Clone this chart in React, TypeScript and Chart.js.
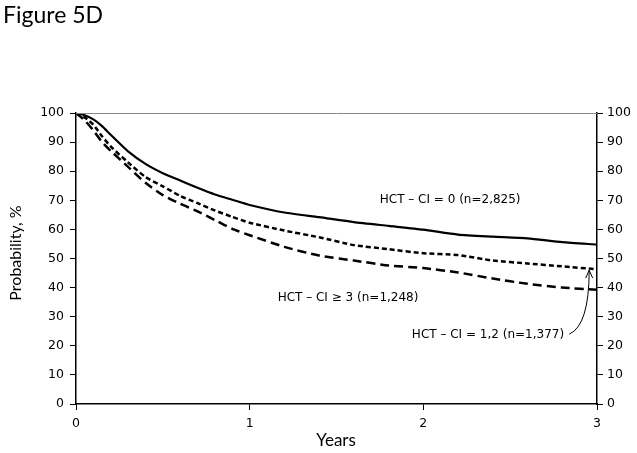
import React, { useEffect, useRef } from "react";
import { Chart, registerables } from "chart.js";

Chart.register(...registerables);

const YEARS = [0, 0.05, 0.1, 0.15, 0.2, 0.3, 0.4, 0.5, 0.6, 0.7, 0.8, 0.9, 1.0, 1.2, 1.4, 1.6, 1.8, 2.0, 2.2, 2.4, 2.6, 2.8, 3.0];
const CI0 = [100, 99.2, 97.8, 95.5, 92.5, 86.8, 82.5, 79.3, 76.8, 74.3, 72, 70.2, 68.4, 65.8, 64.2, 62.5, 61.2, 59.9, 58.2, 57.5, 56.9, 55.6, 54.8];
const CI12 = [100, 98.5, 96, 92, 88.5, 83, 78, 74.8, 71.5, 69, 66.5, 64.3, 62.3, 59.6, 57.3, 54.6, 53.2, 51.8, 51.2, 49.3, 48.3, 47.3, 46.3];
const CI3 = [100, 97.5, 94, 90, 87, 81.5, 76, 71.8, 68.8, 66.2, 63.2, 60.2, 58, 54, 51, 49.3, 47.6, 46.7, 45.2, 43.1, 41.3, 40, 39.3];

const X_TICKS = [0, 1, 2, 3];
const Y_TICKS = [0, 10, 20, 30, 40, 50, 60, 70, 80, 90, 100];

const LABEL_CI0 = "HCT \u2013 CI = 0 (n=2,825)";
const LABEL_CI3 = "HCT \u2013 CI \u2265 3 (n=1,248)";
const LABEL_CI12 = "HCT \u2013 CI = 1,2 (n=1,377)";

const toPoints = (ys: number[]) => YEARS.map((x, i) => ({ x, y: ys[i] }));

const TICK_FONT = { family: "'DejaVu Sans', Verdana, sans-serif", size: 12.5 };

const overlay = {
  id: "overlay",
  afterDraw(chart: any) {
    const { ctx, chartArea, scales } = chart;
    const xs = scales.x;
    const ys = scales.y;
    ctx.save();
    // top border line
    ctx.strokeStyle = "#888";
    ctx.lineWidth = 1;
    ctx.beginPath();
    ctx.moveTo(chartArea.left, chartArea.top + 0.5);
    ctx.lineTo(chartArea.right, chartArea.top + 0.5);
    ctx.stroke();

    // Title
    ctx.fillStyle = "#000";
    ctx.font = "23px Lato, 'Open Sans', sans-serif";
    ctx.textBaseline = "alphabetic";
    ctx.textAlign = "left";
    ctx.fillText("Figure 5D", 3, 23);

    // axis titles
    ctx.font = "17px Lato, 'Open Sans', sans-serif";
    ctx.textAlign = "center";
    ctx.textBaseline = "middle";
    ctx.fillText("Years", 336, 441);
    ctx.save();
    ctx.translate(16, 253);
    ctx.rotate(-Math.PI / 2);
    ctx.font = "16px Lato, 'Open Sans', sans-serif";
    ctx.fillText("Probability, %", 0, 0);
    ctx.restore();

    // annotations
    ctx.font = "12px 'DejaVu Sans', Verdana, sans-serif";
    ctx.textAlign = "left";
    ctx.textBaseline = "middle";
    ctx.fillText(LABEL_CI0, xs.getPixelForValue(1.749), ys.getPixelForValue(70.2));
    ctx.fillText(LABEL_CI3, xs.getPixelForValue(1.161), ys.getPixelForValue(36.5));
    ctx.fillText(LABEL_CI12, xs.getPixelForValue(1.934), ys.getPixelForValue(23.7));

    // curved arrow
    const sx = xs.getPixelForValue(2.84);
    const sy = ys.getPixelForValue(24.0);
    const cx = xs.getPixelForValue(2.955);
    const cy = ys.getPixelForValue(27);
    const ex = xs.getPixelForValue(2.955);
    const ey = ys.getPixelForValue(46.0);
    ctx.strokeStyle = "#000";
    ctx.lineWidth = 1;
    ctx.beginPath();
    ctx.moveTo(sx, sy);
    ctx.quadraticCurveTo(cx, cy, ex, ey);
    ctx.stroke();
    ctx.beginPath();
    ctx.moveTo(ex - 3.5, ey + 8);
    ctx.lineTo(ex, ey);
    ctx.lineTo(ex + 3.5, ey + 8);
    ctx.stroke();
    ctx.restore();
  },
};

export default function App() {
  const ref = useRef<HTMLCanvasElement | null>(null);
  useEffect(() => {
    if (!ref.current) return;
    const chart = new Chart(ref.current, {
      type: "line",
      data: {
        datasets: [
          { label: LABEL_CI0, data: toPoints(CI0), borderColor: "#000", borderWidth: 2.2, pointRadius: 0, fill: false, tension: 0.2 },
          { label: LABEL_CI12, data: toPoints(CI12), borderColor: "#000", borderWidth: 2.5, borderDash: [5, 3], pointRadius: 0, fill: false, tension: 0.2 },
          { label: LABEL_CI3, data: toPoints(CI3), borderColor: "#000", borderWidth: 2.5, borderDash: [9, 5], pointRadius: 0, fill: false, tension: 0.2 },
        ],
      },
      options: {
        animation: false,
        responsive: false,
        maintainAspectRatio: false,
        layout: { padding: { top: 113, left: 0, right: 0, bottom: 0 } },
        plugins: { legend: { display: false }, tooltip: { enabled: false }, title: { display: false } },
        scales: {
          x: {
            type: "linear",
            min: 0,
            max: 3,
            afterBuildTicks: (s: any) => { s.ticks = X_TICKS.map((v) => ({ value: v })); },
            afterFit: (s: any) => { s.height = 49; },
            ticks: { color: "#000", font: TICK_FONT, padding: 6, maxRotation: 0 },
            grid: { drawOnChartArea: false, drawTicks: true, tickLength: 6, color: "#000", lineWidth: 1 },
            border: { color: "#000", width: 1.5 },
          },
          y: {
            position: "left",
            min: 0,
            max: 100,
            afterBuildTicks: (s: any) => { s.ticks = Y_TICKS.map((v) => ({ value: v })); },
            afterFit: (s: any) => { s.width = 76; },
            ticks: { color: "#000", font: TICK_FONT, padding: 6 },
            grid: { drawOnChartArea: false, drawTicks: true, tickLength: 6, color: "#000", lineWidth: 1 },
            border: { color: "#000", width: 1.5 },
          },
          y2: {
            position: "right",
            min: 0,
            max: 100,
            afterBuildTicks: (s: any) => { s.ticks = Y_TICKS.map((v) => ({ value: v })); },
            afterFit: (s: any) => { s.width = 40; },
            ticks: { color: "#000", font: TICK_FONT, padding: 4 },
            grid: { drawOnChartArea: false, drawTicks: true, tickLength: 6, color: "#000", lineWidth: 1 },
            border: { color: "#000", width: 1.5 },
          },
        },
      },
      plugins: [overlay],
    } as any);
    return () => chart.destroy();
  }, []);
  return (
    <div style={{ position: "fixed", left: 0, top: 0, width: 637, height: 453, background: "#fff" }}>
      <canvas ref={ref} width={637} height={453} style={{ display: "block", width: 637, height: 453 }} />
    </div>
  );
}
